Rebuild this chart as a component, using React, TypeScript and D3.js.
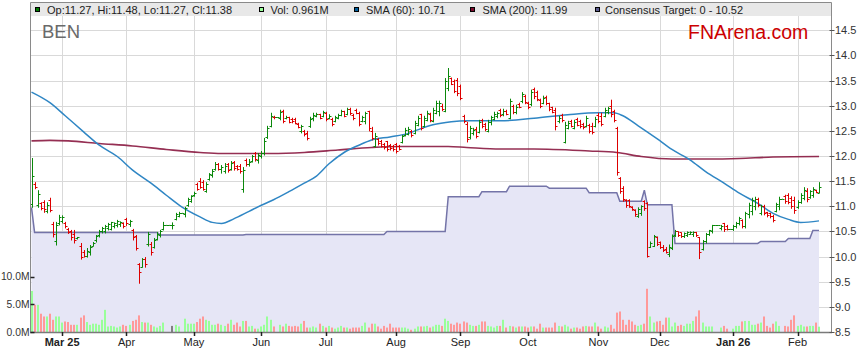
import React from 'react';
import * as d3 from 'd3';

const W = 859;
const H = 363;

// ---- OHLC data (one entry per weekday, 17 Feb 2025 .. 11 Feb 2026) ----
const opens = [
  11.05, 11.45, 11.02, 11.06, 11.08, 10.9, 11.12, 10.65, 10.3, 10.66,
  10.7, 10.67, 10.55, 10.5, 10.45, 10.36, 10.22, 10.1, 10.02, 10.1,
  10.22, 10.32, 10.42, 10.5, 10.5, 10.56, 10.55, 10.6, 10.62, 10.64,
  10.67, 10.74, 10.65, 10.52, 10.4, 9.85, 9.8, 9.95, 10.25, 10.25,
  10.2, 10.35, 10.42, 10.55, 10.63, 10.63, 10.63, 10.75, 10.8, 10.87,
  10.85, 11.03, 11.1, 11.22, 11.45, 11.5, 11.48, 11.3, 11.55, 11.62,
  11.74, 11.84, 11.75, 11.7, 11.84, 11.75, 11.88, 11.8, 11.8, 11.35,
  11.92, 11.85, 11.9, 12.05, 11.92, 12.0, 12.06, 12.38, 12.6, 12.78,
  12.77, 12.75, 12.9, 12.76, 12.78, 12.74, 12.74, 12.64, 12.5, 12.5,
  12.46, 12.6, 12.76, 12.8, 12.83, 12.8, 12.86, 12.76, 12.74, 12.7,
  12.76, 12.82, 12.9, 12.84, 12.94, 12.82, 12.92, 12.86, 12.7, 12.7,
  12.9, 12.5, 12.2, 12.34, 12.3, 12.24, 12.3, 12.22, 12.2, 12.24,
  12.2, 12.28, 12.42, 12.44, 12.5, 12.45, 12.62, 12.84, 12.6, 12.72,
  12.84, 12.7, 12.86, 12.9, 13.0, 12.9, 13.35, 13.55, 13.5, 13.52,
  13.4, 12.8, 12.64, 12.38, 12.46, 12.54, 12.48, 12.72, 12.64, 12.5,
  12.68, 12.74, 12.8, 12.92, 12.84, 12.9, 12.76, 13.0, 12.88, 13.04,
  13.1, 13.2, 13.06, 13.04, 13.34, 13.28, 13.12, 13.06, 13.18, 13.06,
  12.98, 12.92, 12.7, 12.82, 12.28, 12.56, 12.7, 12.56, 12.74, 12.7,
  12.64, 12.6, 12.62, 12.6, 12.6, 12.82, 12.8, 12.8, 12.88, 13.0,
  12.9, 12.56, 11.56, 11.36, 11.12, 11.12, 10.98, 10.92, 10.8, 10.86,
  11.1, 11.06, 10.2, 10.22, 10.38, 10.28, 10.2, 10.15, 10.06, 10.18,
  10.42, 10.5, 10.48, 10.4, 10.42, 10.45, 10.44, 10.48, 10.38, 10.16,
  10.3, 10.45, 10.5, 10.62, 10.62, 10.56, 10.66, 10.6, 10.55, 10.54,
  10.6, 10.66, 10.72, 10.6, 10.84, 10.9, 11.0, 11.14, 10.86, 11.0,
  10.88, 10.86, 10.8, 10.9, 11.0, 11.15, 11.2, 11.22, 11.16, 11.12,
  10.98, 11.08, 11.16, 11.3, 11.18, 11.22, 11.32, 11.27,
];
const highs = [
  11.96, 11.48, 11.32, 11.08, 11.12, 11.08, 11.17, 10.69, 10.69, 10.83,
  10.82, 10.69, 10.57, 10.53, 10.53, 10.39, 10.27, 10.13, 10.17, 10.23,
  10.29, 10.43, 10.53, 10.59, 10.63, 10.67, 10.69, 10.68, 10.73, 10.7,
  10.68, 10.77, 10.73, 10.55, 10.43, 9.87, 9.97, 9.99, 10.49, 10.29,
  10.37, 10.49, 10.53, 10.69, 10.63, 10.63, 10.68, 10.87, 10.89, 10.87,
  10.99, 11.17, 11.22, 11.29, 11.47, 11.56, 11.52, 11.48, 11.66, 11.74,
  11.88, 11.86, 11.82, 11.86, 11.86, 11.9, 11.9, 11.82, 11.84, 11.78,
  11.95, 11.94, 12.02, 12.08, 12.06, 12.1, 12.36, 12.6, 12.86, 12.8,
  12.77, 12.92, 12.92, 12.8, 12.78, 12.76, 12.76, 12.66, 12.62, 12.52,
  12.5, 12.78, 12.86, 12.86, 12.84, 12.9, 12.88, 12.83, 12.76, 12.8,
  12.84, 12.92, 12.9, 12.96, 12.96, 12.84, 12.94, 12.88, 12.8, 12.88,
  12.9, 12.58, 12.46, 12.36, 12.32, 12.26, 12.3, 12.24, 12.22, 12.26,
  12.22, 12.42, 12.56, 12.58, 12.52, 12.7, 12.8, 12.84, 12.8, 12.9,
  12.86, 12.96, 13.1, 13.1, 13.04, 13.55, 13.75, 13.56, 13.52, 13.55,
  13.42, 12.82, 12.68, 12.6, 12.56, 12.58, 12.72, 12.74, 12.66, 12.72,
  12.8, 12.88, 12.88, 12.94, 12.94, 12.92, 13.14, 13.02, 13.02, 13.06,
  13.27, 13.22, 13.08, 13.32, 13.36, 13.3, 13.14, 13.2, 13.2, 13.06,
  12.98, 12.96, 12.8, 12.84, 12.68, 12.7, 12.72, 12.72, 12.76, 12.72,
  12.66, 12.8, 12.64, 12.66, 12.78, 12.86, 12.86, 12.96, 12.98, 13.12,
  12.92, 12.58, 11.58, 11.4, 11.14, 11.14, 11.0, 10.94, 10.98, 11.02,
  11.12, 11.08, 10.3, 10.43, 10.4, 10.3, 10.23, 10.19, 10.24, 10.44,
  10.53, 10.5, 10.48, 10.48, 10.5, 10.5, 10.5, 10.49, 10.39, 10.33,
  10.47, 10.53, 10.63, 10.62, 10.62, 10.63, 10.67, 10.63, 10.55, 10.63,
  10.69, 10.79, 10.74, 10.89, 11.07, 11.17, 11.19, 11.17, 11.03, 11.03,
  10.89, 10.87, 10.83, 11.07, 11.19, 11.15, 11.23, 11.26, 11.2, 11.19,
  11.12, 11.26, 11.38, 11.36, 11.32, 11.38, 11.33, 11.48,
];
const lows = [
  10.98, 11.35, 10.98, 10.93, 10.88, 10.87, 10.89, 10.39, 10.23, 10.63,
  10.67, 10.57, 10.46, 10.33, 10.27, 10.35, 9.95, 9.99, 9.99, 10.03,
  10.21, 10.29, 10.39, 10.47, 10.47, 10.53, 10.53, 10.57, 10.59, 10.6,
  10.57, 10.62, 10.6, 10.33, 10.13, 9.47, 9.79, 9.79, 10.21, 10.03,
  10.17, 10.33, 10.39, 10.53, 10.63, 10.63, 10.55, 10.73, 10.79, 10.87,
  10.79, 11.0, 11.08, 11.2, 11.32, 11.36, 11.32, 11.28, 11.52, 11.58,
  11.72, 11.72, 11.66, 11.66, 11.68, 11.72, 11.72, 11.72, 11.66, 11.28,
  11.8, 11.8, 11.88, 11.9, 11.86, 11.96, 12.02, 12.35, 12.58, 12.74,
  12.77, 12.72, 12.66, 12.74, 12.66, 12.66, 12.64, 12.56, 12.46, 12.4,
  12.32, 12.57, 12.7, 12.78, 12.74, 12.78, 12.7, 12.74, 12.6, 12.68,
  12.74, 12.8, 12.78, 12.82, 12.82, 12.72, 12.84, 12.6, 12.68, 12.64,
  12.5, 12.32, 12.18, 12.22, 12.18, 12.14, 12.1, 12.12, 12.1, 12.06,
  12.12, 12.26, 12.4, 12.42, 12.38, 12.44, 12.6, 12.52, 12.58, 12.7,
  12.68, 12.68, 12.84, 12.8, 12.9, 12.88, 13.3, 13.42, 13.26, 13.2,
  13.12, 12.66, 12.28, 12.34, 12.42, 12.36, 12.46, 12.56, 12.5, 12.48,
  12.62, 12.72, 12.76, 12.78, 12.8, 12.82, 12.74, 12.84, 12.84, 12.96,
  13.06, 13.04, 12.94, 13.0, 13.14, 13.1, 12.96, 13.04, 13.02, 12.9,
  12.86, 12.52, 12.66, 12.68, 12.26, 12.54, 12.58, 12.54, 12.6, 12.56,
  12.54, 12.58, 12.46, 12.44, 12.58, 12.66, 12.6, 12.78, 12.84, 12.78,
  12.68, 11.62, 11.26, 11.1, 10.98, 10.98, 10.92, 10.8, 10.78, 10.82,
  10.92, 9.99, 10.18, 10.2, 10.22, 10.16, 10.1, 10.07, 10.0, 10.14,
  10.4, 10.4, 10.38, 10.38, 10.4, 10.44, 10.4, 10.4, 9.96, 10.13,
  10.27, 10.42, 10.47, 10.62, 10.62, 10.53, 10.5, 10.53, 10.55, 10.52,
  10.57, 10.63, 10.57, 10.57, 10.77, 10.83, 10.93, 10.99, 10.83, 10.83,
  10.79, 10.77, 10.69, 10.89, 10.93, 11.15, 11.06, 11.05, 10.96, 10.86,
  10.96, 11.06, 11.13, 11.09, 11.16, 11.18, 11.27, 11.27,
];
const closes = [
  11.6, 11.38, 11.25, 10.97, 10.95, 11.03, 10.92, 10.45, 10.62, 10.78,
  10.79, 10.6, 10.48, 10.38, 10.32, 10.38, 10.0, 10.02, 10.12, 10.2,
  10.27, 10.4, 10.5, 10.57, 10.6, 10.65, 10.68, 10.66, 10.7, 10.68,
  10.6, 10.66, 10.7, 10.38, 10.18, 9.7, 9.95, 9.85, 10.45, 10.1,
  10.33, 10.45, 10.5, 10.63, 10.63, 10.63, 10.63, 10.85, 10.87, 10.87,
  10.97, 11.15, 11.2, 11.27, 11.35, 11.38, 11.35, 11.45, 11.64, 11.7,
  11.85, 11.75, 11.78, 11.8, 11.72, 11.86, 11.76, 11.75, 11.7, 11.72,
  11.84, 11.88, 12.0, 11.95, 12.02, 12.06, 12.3, 12.55, 12.8, 12.77,
  12.77, 12.88, 12.7, 12.78, 12.68, 12.7, 12.66, 12.58, 12.6, 12.44,
  12.36, 12.74, 12.82, 12.83, 12.76, 12.87, 12.74, 12.8, 12.64, 12.78,
  12.82, 12.9, 12.8, 12.94, 12.85, 12.75, 12.86, 12.64, 12.78, 12.85,
  12.56, 12.36, 12.4, 12.25, 12.2, 12.17, 12.14, 12.16, 12.13, 12.1,
  12.14, 12.4, 12.52, 12.54, 12.42, 12.66, 12.76, 12.56, 12.76, 12.86,
  12.72, 12.92, 13.05, 13.06, 12.94, 13.5, 13.6, 13.44, 13.3, 13.26,
  13.16, 12.7, 12.34, 12.56, 12.52, 12.4, 12.68, 12.6, 12.53, 12.68,
  12.78, 12.84, 12.86, 12.82, 12.9, 12.84, 13.1, 12.88, 12.98, 12.98,
  13.24, 13.08, 12.98, 13.28, 13.2, 13.14, 13.0, 13.16, 13.06, 12.94,
  12.88, 12.6, 12.76, 12.72, 12.62, 12.66, 12.6, 12.68, 12.62, 12.6,
  12.58, 12.76, 12.5, 12.48, 12.74, 12.7, 12.64, 12.92, 12.96, 12.84,
  12.72, 11.68, 11.3, 11.14, 11.02, 11.0, 10.94, 10.84, 10.94, 11.0,
  10.96, 10.02, 10.27, 10.4, 10.25, 10.2, 10.14, 10.1, 10.2, 10.4,
  10.5, 10.42, 10.41, 10.46, 10.48, 10.49, 10.48, 10.42, 10.1, 10.3,
  10.45, 10.52, 10.62, 10.62, 10.62, 10.61, 10.54, 10.55, 10.55, 10.6,
  10.67, 10.76, 10.6, 10.86, 11.03, 11.12, 11.14, 11.02, 11.0, 10.86,
  10.82, 10.8, 10.72, 11.04, 11.15, 11.15, 11.1, 11.08, 11.0, 10.92,
  11.08, 11.22, 11.32, 11.14, 11.3, 11.34, 11.28, 11.38,
];
// volume in millions of shares
const volumes = [
  7.4, 4.9, 4.9, 3.3, 2.8, 2.8, 3.3, 2.2, 2.8, 2.8,
  1.7, 1.9, 1.8, 1.3, 1.3, 1.3, 2.6, 3.0, 1.8, 1.3,
  1.5, 1.5, 1.3, 2.2, 4.0, 1.0, 1.1, 1.0, 0.8, 1.0,
  1.3, 1.1, 1.3, 2.0, 2.2, 3.0, 1.8, 1.7, 1.7, 1.3,
  1.0, 0.8, 1.1, 1.7, 0, 0, 1.1, 1.3, 1.0, 0,
  2.4, 1.5, 1.5, 1.5, 1.8, 2.4, 2.8, 2.2, 2.0, 1.3,
  1.3, 1.5, 1.3, 1.1, 1.5, 2.2, 1.3, 1.7, 1.0, 2.0,
  2.0, 1.0, 1.1, 0.6, 0.6, 1.0, 1.3, 2.8, 2.2, 1.0,
  0, 1.3, 1.0, 1.5, 1.1, 1.0, 1.1, 1.0, 1.5, 2.0,
  0.8, 0.8, 1.0, 0.8, 1.5, 1.1, 0.8, 1.1, 0.8, 0.6,
  0.8, 1.1, 0.8, 0.8, 0.6, 0.8, 0.8, 0.8, 1.1, 1.7,
  0.8, 1.5, 1.5, 1.0, 0.6, 1.1, 0.8, 1.5, 0.8, 0.8,
  0.8, 0.8, 0.8, 0.6, 0.4, 0.6, 1.0, 1.0, 1.0, 1.1,
  0.8, 1.0, 1.3, 1.3, 1.1, 2.4, 2.0, 1.5, 1.3, 1.7,
  1.5, 1.9, 1.7, 1.3, 1.1, 1.1, 1.3, 1.9, 1.9, 1.1,
  1.0, 0.8, 1.1, 1.1, 2.2, 0.8, 1.1, 1.0, 0.8, 1.0,
  1.0, 1.0, 0.8, 1.0, 1.0, 0.6, 1.5, 0.8, 0.8, 0.8,
  0.8, 1.7, 1.1, 1.0, 1.3, 1.0, 0.6, 0.8, 0.8, 0.6,
  1.0, 1.1, 1.0, 1.0, 1.7, 1.0, 0.6, 1.0, 0.8, 1.3,
  0.6, 3.5, 3.7, 2.2, 1.3, 2.2, 1.9, 1.3, 1.1, 1.3,
  1.5, 7.8, 2.8, 1.7, 1.9, 2.0, 1.3, 2.6, 2.6, 1.0,
  1.7, 1.1, 1.3, 1.1, 1.5, 1.5, 2.0, 2.8, 3.9, 1.7,
  1.0, 1.0, 1.0, 0, 0, 0.8, 1.1, 0.6, 0, 0.6,
  1.1, 1.1, 1.9, 2.0, 2.0, 1.3, 1.3, 1.5, 1.7, 2.8,
  1.1, 0.8, 1.5, 1.9, 1.1, 0, 1.1, 1.0, 2.2, 3.0,
  1.1, 1.3, 1.0, 1.0, 1.1, 1.1, 1.7, 0.961,
];

// moving averages: [bar index, value]
const sma60Points: [number, number][] = [
  [0, 13.27], [6, 13.06], [11, 12.8], [17, 12.48], [22, 12.22], [28, 11.99],
  [33, 11.72], [39, 11.46], [44, 11.22], [49, 10.99], [55, 10.79], [59, 10.68],
  [62, 10.66], [66, 10.75], [71, 10.9], [75, 11.02], [79, 11.13], [84, 11.29],
  [89, 11.46], [93, 11.6], [97, 11.84], [102, 12.07], [107, 12.22], [111, 12.32],
  [117, 12.38], [123, 12.45], [126, 12.52], [131, 12.62], [137, 12.68], [142, 12.7],
  [153, 12.7], [164, 12.75], [175, 12.82], [185, 12.86], [190, 12.86], [193, 12.8],
  [198, 12.6], [204, 12.35], [209, 12.13], [215, 11.92], [220, 11.69], [226, 11.46],
  [231, 11.26], [237, 11.06], [242, 10.86], [247, 10.74], [251, 10.68], [257, 10.71],
];
const sma200Points: [number, number][] = [
  [0, 12.3], [6, 12.31], [12, 12.3], [22, 12.25], [33, 12.2], [44, 12.13],
  [55, 12.07], [62, 12.05], [78, 12.05], [89, 12.07], [100, 12.12], [111, 12.17],
  [120, 12.19], [136, 12.19], [142, 12.17], [153, 12.14], [164, 12.14], [182, 12.1],
  [191, 12.07], [199, 11.99], [209, 11.94], [220, 11.94], [231, 11.95], [242, 11.98],
  [257, 11.99],
];
// consensus target steps: [first bar index, value]
const targetSteps: [number, number][] = [
  [0, 10.98], [1, 10.48], [42, 10.43], [70, 10.44], [116, 10.5], [136, 11.19],
  [147, 11.29], [156, 11.4], [169, 11.36], [182, 11.27], [192, 11.1], [200, 11.32],
  [201, 11.03], [210, 10.26], [238, 10.3], [247, 10.36], [255, 10.52],
];

const monthTickIndex = [10, 31, 53, 75, 96, 119, 140, 162, 185, 205, 229, 250];
const monthLabels = ['Mar 25', 'Apr', 'May', 'Jun', 'Jul', 'Aug', 'Sep', 'Oct', 'Nov', 'Dec', 'Jan 26', 'Feb'];
const monthBold = [true, false, false, false, false, false, false, false, false, false, true, false];

const priceTicks = [14.5, 14.0, 13.5, 13.0, 12.5, 12.0, 11.5, 11.0, 10.5, 10.0, 9.5, 9.0, 8.5];
const volumeTicks = [0, 5, 10];
const volumeTickLabels = ['0.0M', '5.0M', '10.0M'];

const legendItems = [
  { label: 'Op:11.27, Hi:11.48, Lo:11.27, Cl:11.38', color: '#007a00', sq: 35.5, tx: 47 },
  { label: 'Vol: 0.961M', color: '#99ff99', sq: 259.5, tx: 270.5 },
  { label: 'SMA (60): 10.71', color: '#005c9a', sq: 354.5, tx: 366 },
  { label: 'SMA (200): 11.99', color: '#7c0a2c', sq: 470.5, tx: 482.5 },
  { label: 'Consensus Target: 0 - 10.52', color: '#5a5a8c', sq: 595.5, tx: 605 },
];

const PLOT_L = 30.5;
const PLOT_R = 831.5;
const PLOT_TOP = 16;
const PLOT_B = 332;

export default function App() {
  const n = closes.length;
  const x = d3.scaleLinear().domain([0, n - 1]).range([31.5, 819]);
  const y = d3.scaleLinear().domain([8.5, 14.5]).range([332, 30.3]);
  const yv = d3.scaleLinear().domain([0, 10]).range([332, 276.6]);

  const targetSeries = closes.map((_, i) => {
    let v = targetSteps[0][1];
    for (const [s, val] of targetSteps) if (i >= s) v = val;
    return v;
  });

  const area = d3
    .area<number>()
    .x((_, i) => x(i))
    .y0(PLOT_B)
    .y1((d) => y(d));
  const tline = d3
    .line<number>()
    .x((_, i) => x(i))
    .y((d) => y(d));
  const smaLine = d3
    .line<[number, number]>()
    .x((d) => x(d[0]))
    .y((d) => y(d[1]))
    .curve(d3.curveMonotoneX);

  const font = '"Liberation Sans", Arial, Helvetica, sans-serif';
  const green = '#0b880b';
  const red = '#dd0000';

  return (
    <svg
      width={W}
      height={H}
      style={{ position: 'absolute', left: 0, top: 0, background: '#fff' }}
      fontFamily={font}
    >
      <rect x={0} y={0} width={W} height={H} fill="#fff" />
      {/* grid */}
      {priceTicks.map((t) => (
        <line key={'hg' + t} x1={PLOT_L} x2={PLOT_R} y1={Math.round(y(t)) + 0.5} y2={Math.round(y(t)) + 0.5} stroke="#d9d9d9" strokeWidth={1} />
      ))}
      {monthTickIndex.map((mi) => (
        <line key={'vg' + mi} x1={Math.round(x(mi)) + 0.5} x2={Math.round(x(mi)) + 0.5} y1={PLOT_TOP} y2={PLOT_B} stroke="#d9d9d9" strokeWidth={1} />
      ))}
      {/* consensus target */}
      <path d={area(targetSeries) || ''} fill="#e6e6f6" />
      <path d={tline(targetSeries) || ''} fill="none" stroke="#7474a8" strokeWidth={1.5} />
      {/* volume */}
      {volumes.map((v, i) => {
        if (v <= 0) return null;
        const c = closes[i] > opens[i] ? '#99ff99' : closes[i] < opens[i] ? '#ff9999' : '#808080';
        const top = yv(v);
        return <rect key={'v' + i} x={Math.round(x(i)) - 1} y={top} width={2} height={PLOT_B - top} fill={c} />;
      })}
      {/* SMAs */}
      <path d={smaLine(sma200Points) || ''} fill="none" stroke="#8a1840" strokeWidth={1.6} strokeOpacity={0.9} />
      <path d={smaLine(sma60Points) || ''} fill="none" stroke="#2f86c4" strokeWidth={1.5} />
      {/* OHLC bars */}
      {closes.map((c, i) => {
        const xc = Math.round(x(i)) + 0.5;
        const col = c >= opens[i] ? green : red;
        const yo = Math.round(y(opens[i])) + 0.5;
        const yc = Math.round(y(c)) + 0.5;
        return (
          <g key={'b' + i} stroke={col} strokeWidth={1}>
            <line x1={xc} x2={xc} y1={y(highs[i])} y2={y(lows[i]) + 0.5} />
            <line x1={xc - 2} x2={xc} y1={yo} y2={yo} />
            <line x1={xc} x2={xc + 2} y1={yc} y2={yc} />
          </g>
        );
      })}
      {/* legend strip */}
      <rect x={PLOT_L} y={2.5} width={PLOT_R - PLOT_L} height={13.5} fill="#e8e8e8" />
      {legendItems.map((it) => (
        <g key={it.label}>
          <rect x={it.sq} y={7.5} width={4} height={4} fill={it.color} stroke="#000" strokeWidth={1} />
          <text x={it.tx} y={13.5} fontSize={11} fill="#222">
            {it.label}
          </text>
        </g>
      ))}
      {/* frame */}
      <line x1={PLOT_L} x2={PLOT_R} y1={2.5} y2={2.5} stroke="#8a8a8a" />
      <line x1={PLOT_L} x2={PLOT_L} y1={2.5} y2={PLOT_B} stroke="#8a8a8a" />
      <line x1={PLOT_R} x2={PLOT_R} y1={2.5} y2={PLOT_B} stroke="#8a8a8a" />
      <line x1={PLOT_L - 0.5} x2={PLOT_R + 0.5} y1={PLOT_B + 0.5} y2={PLOT_B + 0.5} stroke="#7a7a7a" strokeWidth={1.5} />
      {/* titles */}
      <text x={42} y={38} fontSize={18.5} fill="#6a6a6a">BEN</text>
      <text x={688} y={38.5} fontSize={19.5} fill="#cc0000">FNArena.com</text>
      {/* right axis */}
      {priceTicks.map((t) => (
        <g key={'pt' + t}>
          <line x1={PLOT_R - 2} x2={PLOT_R + 3} y1={Math.round(y(t)) + 0.5} y2={Math.round(y(t)) + 0.5} stroke="#555" />
          <text x={835} y={y(t)} fontSize={11} fill="#333" dominantBaseline="central">
            {t.toFixed(1)}
          </text>
        </g>
      ))}
      {/* left volume axis */}
      {volumeTicks.map((t, k) => (
        <g key={'vt' + t}>
          <line x1={PLOT_L} x2={PLOT_L + 4} y1={Math.round(yv(t)) + 0.5} y2={Math.round(yv(t)) + 0.5} stroke="#222" strokeWidth={1.5} />
          <text x={29.5} y={yv(t)} fontSize={10.3} fill="#333" textAnchor="end" dominantBaseline="central">
            {volumeTickLabels[k]}
          </text>
        </g>
      ))}
      {/* bottom axis */}
      {monthTickIndex.map((mi, k) => (
        <g key={'mt' + mi}>
          <line x1={Math.round(x(mi)) + 0.5} x2={Math.round(x(mi)) + 0.5} y1={PLOT_B} y2={PLOT_B + 4} stroke="#222" strokeWidth={1.5} />
          <text x={x(mi)} y={345.5} fontSize={11} fill="#222" textAnchor="middle" fontWeight={monthBold[k] ? 'bold' : 'normal'}>
            {monthLabels[k]}
          </text>
        </g>
      ))}
    </svg>
  );
}
